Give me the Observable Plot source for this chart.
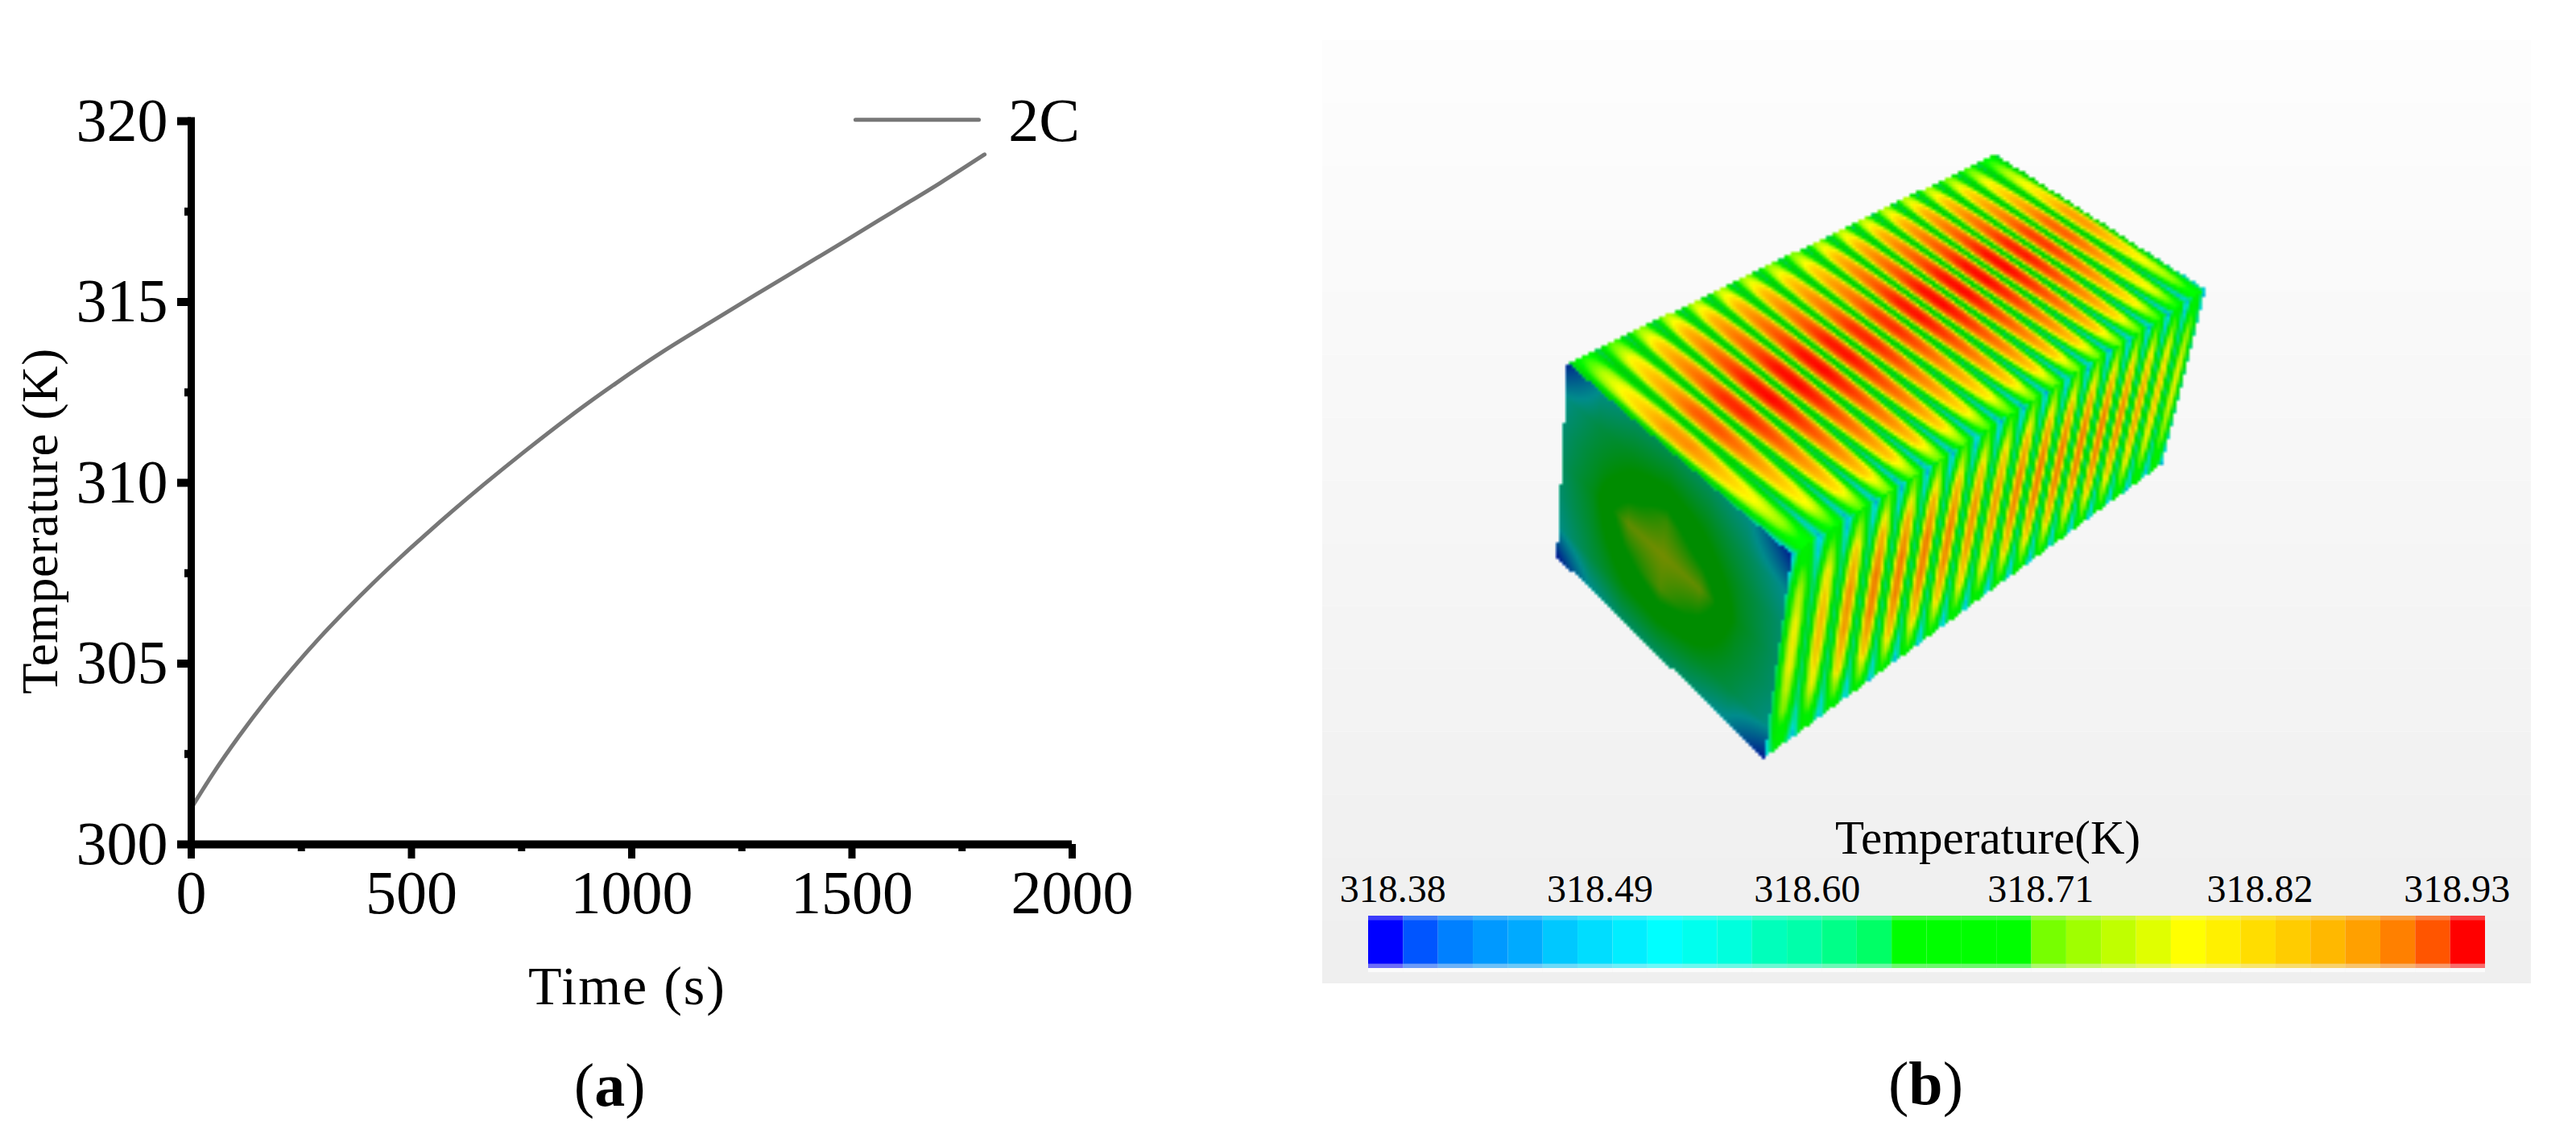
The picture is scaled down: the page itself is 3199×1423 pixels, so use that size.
<!DOCTYPE html>
<html><head><meta charset="utf-8">
<script src="https://cdn.jsdelivr.net/npm/d3@7"></script>
<script src="https://cdn.jsdelivr.net/npm/@observablehq/plot@0.6"></script>
<style>html,body{margin:0;padding:0;background:#fff}#root{position:relative;width:3199px;height:1423px;overflow:hidden}</style>
</head><body><div id="root"></div>
<script>
// ---------- panel (a): temperature rise curve ----------
const timeS = [0,48,109,170,231,292,353,414,475,535,597,663,755,860,965,1070,1175,1280,1385,1490,1595,1700,1801];
const tempK = [301.0,301.93,303.0,303.98,304.88,305.72,306.5,307.24,307.94,308.6,309.26,309.94,310.85,311.84,312.76,313.62,314.41,315.19,315.96,316.73,317.51,318.29,319.08];
const xMajor = [0,500,1000,1500,2000], xMinor = [250,750,1250,1750];
const yMajor = [300,305,310,315,320], yMinor = [302.5,307.5,312.5,317.5];
const legendName = "2C", legendSpan = [1508,1788];
const serif = "'Liberation Serif','Times New Roman',serif";
const curveColor = "#777777";

// ---------- panel (b): colour bar ----------
const barColors = ["#0000ff","#0055ff","#0080ff","#0099ff","#00aaff","#00c8ff","#00ddff","#00eeff","#00ffff","#00ffee","#00ffdd","#00ffbb","#00ffaa","#00ff88","#00ff66","#00ff00","#00ff00","#00ff00","#00ff00","#77ff00","#a0ff00","#c0ff00","#e0ff00","#ffff00","#fff000","#ffdd00","#ffcc00","#ffb800","#ffa000","#ff8000","#ff5500","#ff0000"];
const barLabels = ["318.38","318.49","318.60","318.71","318.82","318.93"];
const barLabelAt = [318.392,318.494,318.596,318.711,318.819,318.916];
const tMin = 318.38, tMax = 318.93;
const jetAt = [318.38,318.54,318.655,318.71,318.79,318.93];
const jetColors = ["#0000ff","#00ffff","#00ff00","#00ff00","#ffff00","#ff0000"];
const bgLevels = ["#fdfdfd","#fcfcfc","#fbfbfb","#fafafa","#f9f9f9","#f8f8f8","#f7f7f7","#f6f6f6","#f5f5f5","#f4f4f4","#f3f3f3","#f2f2f2","#f1f1f1","#f0f0f0","#efefef"];

// ---------- panel (b): module picture ----------
const cornerA=[1946,451],cornerB=[2224,688],cornerC=[2738,359],cornerD=[2477,191],cornerE=[2190,941],cornerF=[1933,691],cornerG=[2684,576];
const cellCount = 18;
const cellGain = [.86,.92,.97,1,1,1,.99,.97,.96,.99,1,1,1,1,.98,.95,.91,.85];
const topProfile = [0,.4,.78,.94,1,.97,.85,.48,0];
const sideProfile = [0,.3,.7,.92,1,.92,.7,.3,0];
const topPeakAcross = [.7,.82,.88,.93,.99,1,.96,.91,.86,.8,.66];
const topTroughAcross = [.4,.46,.49,.5,.5,.48,.46,.42,.38,.3,.25];
const sidePeakDown = [.62,.8,.86,.85,.78,.58];
const sideTroughDown = [.22,.36,.4,.4,.36,.24];
const frontTemps = [
 [.08,.3,.36,.38,.36,.3,.06],
 [.3,.4,.46,.5,.46,.38,.28],
 [.34,.44,.55,.66,.55,.44,.34],
 [.36,.47,.7,.72,.7,.47,.35],
 [.34,.44,.58,.68,.58,.44,.34],
 [.3,.4,.48,.5,.46,.4,.3],
 [.05,.28,.35,.36,.34,.27,.05]];

function homography([p0,p1,p2,p3]){
  const [x0,y0]=p0,[x1,y1]=p1,[x2,y2]=p2,[x3,y3]=p3;
  const dx1=x1-x2,dx2=x3-x2,sx=x0-x1+x2-x3,dy1=y1-y2,dy2=y3-y2,sy=y0-y1+y2-y3;
  const den=dx1*dy2-dx2*dy1,g=(sx*dy2-dx2*sy)/den,h=(dx1*sy-sx*dy1)/den;
  const a=x1-x0+g*x1,b=x3-x0+h*x3,c=x0,d=y1-y0+g*y1,e=y3-y0+h*y3,f=y0;
  const A=e-f*h,B=c*h-b,C=b*f-c*e,D=f*g-d,E=a-c*g,F=c*d-a*f,G=d*h-e*g,H=b*g-a*h,I=a*e-b*d;
  return (x,y)=>{const w=G*x+H*y+I;return [(A*x+B*y+C)/w,(D*x+E*y+F)/w];};
}
const lookup=(t,x)=>{const p=Math.max(0,Math.min(.9999,x))*(t.length-1),i=Math.floor(p);return t[i]+(t[i+1]-t[i])*(p-i);};
const inside=(u,v)=>u>=0&&u<=1&&v>=0&&v<=1;
const toTop=homography([cornerA,cornerD,cornerC,cornerB]);
const toSide=homography([cornerB,cornerC,cornerG,cornerE]);
const toFront=homography([cornerA,cornerB,cornerE,cornerF]);
function surface(x,y){
  let [u,v]=toFront(x,y);
  if(inside(u,v)){
    const r=v*(frontTemps.length-1),i=Math.min(frontTemps.length-2,Math.floor(r));
    return {w:lookup(frontTemps[i],u)*(1-(r-i))+lookup(frontTemps[i+1],u)*(r-i),shade:.45};
  }
  [u,v]=toTop(x,y);
  if(inside(u,v)){
    const U=u*cellCount,c=Math.min(cellCount-1,Math.floor(U)),pr=lookup(topProfile,U-c);
    const pk=lookup(topPeakAcross,v)*cellGain[c],tr=lookup(topTroughAcross,v);
    return {w:tr+(pk-tr)*pr,shade:.2*(1-pr)};
  }
  [u,v]=toSide(x,y);
  if(inside(u,v)){
    const U=u*cellCount,c=Math.min(cellCount-1,Math.floor(U)),pr=lookup(sideProfile,U-c);
    const pk=lookup(sidePeakDown,v)*(cellGain[c]+.02),tr=lookup(sideTroughDown,v);
    return {w:tr+(pk-tr)*pr,shade:.06+.1*(1-pr)};
  }
  return null;
}
const blockTemp=(x,y)=>{const s=surface(x,y);return s?tMin+(tMax-tMin)*s.w:NaN;};
const blockShade=(x,y)=>{const s=surface(x,y);return s?s.shade:0;};

const W=3199,H=1423;
const overlay={background:"none",maxWidth:"none",position:"absolute",left:"0",top:"0",fontFamily:serif,color:"#000"};
const spaced=(px)=>(i,s,v,d,c,next)=>{const g=next(i,s,v,d,c);g.style.letterSpacing=px+"px";return g;};
const boldMiddle=(i,s,v,d,c,next)=>{const g=next(i,s,v,d,c);g.querySelectorAll("text").forEach(t=>{const m=t.textContent;t.textContent="";
  t.append("(");const b=document.createElementNS("http://www.w3.org/2000/svg","tspan");b.setAttribute("font-weight","bold");b.textContent=m.slice(1,-1);t.append(b,")");});return g;};

// ---------- plot a ----------
const rows=timeS.map((t,i)=>({t,k:tempK[i]}));
const plotA=Plot.plot({
  width:W,height:H,marginLeft:237,marginRight:W-1331,marginTop:150,marginBottom:H-1048,
  style:overlay,
  x:{domain:[0,2000],label:null},
  y:{domain:[300,320],label:null},
  marks:[
    Plot.line(rows,{x:"t",y:"k",stroke:curveColor,strokeWidth:5,strokeLinecap:"round",curve:"monotone-x"}),
    Plot.ruleX([0],{y1:300,y2:320,strokeWidth:9,stroke:"#000",strokeLinecap:"square"}),
    Plot.ruleY([300],{x1:0,x2:2000,strokeWidth:10,stroke:"#000"}),
    Plot.axisY({ticks:yMajor,tickSize:17,tickPadding:12,strokeWidth:10,stroke:"#000",fontSize:76,fontFamily:serif,label:null,tickFormat:d=>String(d)}),
    Plot.axisY({ticks:yMinor,tickSize:8,strokeWidth:10,stroke:"#000",text:null,label:null}),
    Plot.axisX({ticks:xMajor,tickSize:18,tickPadding:14,strokeWidth:9,stroke:"#000",fontSize:76,fontFamily:serif,label:null,tickFormat:d=>String(d)}),
    Plot.axisX({ticks:xMinor,tickSize:9,strokeWidth:9,stroke:"#000",text:null,label:null}),
    Plot.line(legendSpan.map(t=>({t,k:320.04})),{x:"t",y:"k",stroke:curveColor,strokeWidth:5,strokeLinecap:"round"}),
    Plot.text([legendName],{x:1855,y:320,text:d=>d,fontSize:76,fontFamily:serif,textAnchor:"start",fill:"#000"}),
    Plot.text(["Temperature (K)"],{x:-342,y:308.94,text:d=>d,rotate:-90,fontSize:63,fontFamily:serif,fill:"#000",render:spaced(.6)}),
    Plot.text(["Time (s)"],{x:990,y:296-(1225-1048-179.6)/44.9,text:d=>d,fontSize:68,fontFamily:serif,fill:"#000",render:spaced(2)}),
    Plot.text(["(a)"],{x:950,y:293.32,text:d=>d,fontSize:76,fontFamily:serif,fill:"#000",render:boldMiddle})
  ]
});

// ---------- plot b: backdrop and module ----------
const bandH=(1221-50)/bgLevels.length;
const bgRows=bgLevels.map((c,i)=>({c,y1:50+i*bandH,y2:50+(i+1)*bandH}));
const plotB=Plot.plot({
  width:W,height:H,margin:0,style:overlay,
  x:{domain:[0,W],axis:null},
  y:{domain:[H,0],axis:null},
  color:{type:"linear",domain:jetAt,range:jetColors},
  marks:[
    Plot.rect(bgRows,{x1:()=>1642,x2:()=>3143,y1:"y1",y2:"y2",fill:{value:"c",scale:null}}),
    Plot.raster({fill:blockTemp,x1:1920,x2:2750,y1:950,y2:180,width:208,height:192,imageRendering:"auto"}),
    Plot.raster({fill:"#000",fillOpacity:blockShade,x1:1920,x2:2750,y1:950,y2:180,width:208,height:192,imageRendering:"auto"}),
    Plot.text(["(b)"],{x:2391,y:1346,text:d=>d,fontSize:76,fontFamily:serif,fill:"#000",render:boldMiddle})
  ]
});

// ---------- plot c: colour bar with its temperature scale ----------
const step=(tMax-tMin)/barColors.length;
const barRows=barColors.map((c,i)=>({c,t1:tMin+i*step,t2:tMin+(i+1)*step}));
const plotC=Plot.plot({
  width:W,height:H,marginLeft:1699,marginRight:W-3086,marginTop:1137,marginBottom:H-1202,style:overlay,
  x:{domain:[tMin,tMax],axis:null},
  y:{domain:[0,1],reverse:true,axis:null},
  marks:[
    Plot.rect(barRows,{x1:"t1",x2:"t2",y1:()=>1,y2:()=>1.08,fill:"#ffffff",fillOpacity:.75}),
    Plot.rect(barRows,{x1:"t1",x2:"t2",y1:()=>0,y2:()=>.08,fill:{value:"c",scale:null},fillOpacity:.75}),
    Plot.rect(barRows,{x1:"t1",x2:"t2",y1:()=>.08,y2:()=>.92,fill:{value:"c",scale:null}}),
    Plot.rect(barRows,{x1:"t1",x2:"t2",y1:()=>.92,y2:()=>1,fill:{value:"c",scale:null},fillOpacity:.55}),
    Plot.text(barLabels,{x:(d,i)=>barLabelAt[i],y:()=>-.5,text:d=>d,fontSize:48,fontFamily:serif,fill:"#000"}),
    Plot.text(["Temperature(K)"],{x:()=>318.685,y:()=>-1.48,text:d=>d,fontSize:59,fontFamily:serif,fill:"#000"})
  ]
});
document.getElementById("root").append(plotB,plotC,plotA);
</script></body></html>
